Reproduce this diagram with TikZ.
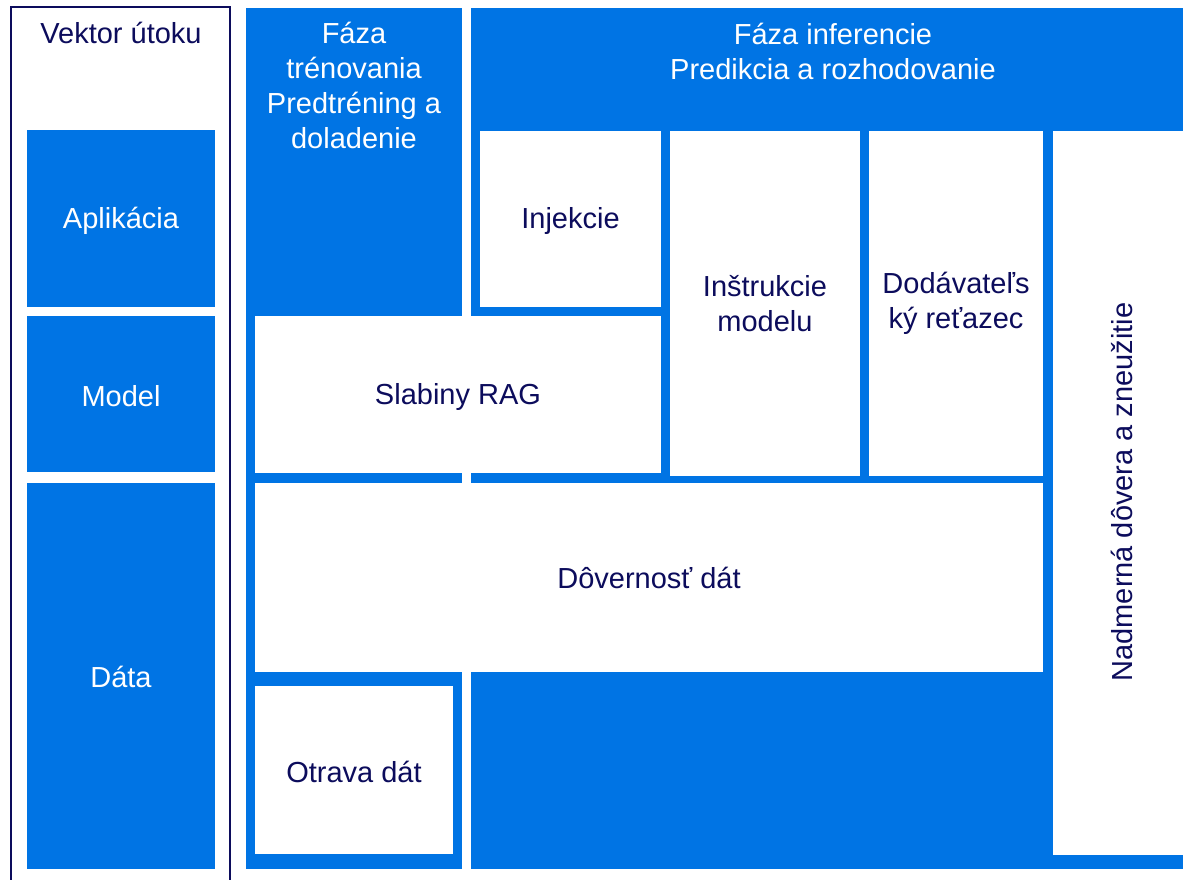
\documentclass[tikz,border=0pt]{standalone}
\usepackage{fontspec}
\setmainfont{Liberation Sans}
\usepackage{xcolor}
\usepackage{tikz}
\definecolor{tileblue}{RGB}{0,116,228}
\definecolor{inknavy}{RGB}{12,12,92}

\begin{document}
\begin{tikzpicture}[x=1pt, y=-1pt,
	tile/.style={fill=tileblue, text=white, inner sep=0pt, align=center, font=\fontsize{29}{35}\selectfont},
	cell/.style={fill=white, text=inknavy, inner sep=0pt, align=center, font=\fontsize{29}{35}\selectfont}]
	\useasboundingbox (0,0) rectangle (1183,880);
	
	% Vektor utoku
	\draw[inknavy, line width=2pt] (11,890) -- (11,7) -- (230,7) -- (230,890);
	\node[cell] (vektor) at (121,33) {Vektor útoku};
	\node[tile, minimum width=188pt, minimum height=177pt] (aplikacia) at (121,218.5) {};
	\node[tile, minimum width=188pt, minimum height=156pt] (model) at (121,394) {};
	\node[tile, minimum width=188pt, minimum height=386pt] (data) at (121,676) {};
	\node[tile, fill=none] (aplikaciatext) at (121,221) {Aplikácia};
	\node[tile, fill=none] (modeltext) at (121,396) {Model};
	\node[tile, fill=none] (datatext) at (121,677) {Dáta};
	
	% Fazy
	\node[tile, anchor=north west, minimum width=216pt, minimum height=861pt] (trening) at (246,8) {};
	\node[tile, anchor=north west, minimum width=730pt, minimum height=861pt] (inferencia) at (471,8) {};
	\node[tile, fill=none] (treningtext) at (354,85.5) {Fáza\\trénovania\\Predtréning a\\doladenie};
	\node[tile, fill=none] (inferenciatext) at (833,51) {Fáza inferencie\\Predikcia a rozhodovanie};
	
	% Zranitelnosti
	\node[cell, minimum width=181pt, minimum height=176pt] (injekcie) at (570.5,219) {};
	\node[cell, fill=none] (injekcietext) at (570.5,221) {Injekcie};
	\node[cell, minimum width=190pt, minimum height=345pt] (instrukcie) at (765,303.5) {Inštrukcie\\modelu};
	\node[cell, minimum width=174pt, minimum height=345pt] (dodavatel) at (956,303.5) {Dodávateľs\\ký reťazec};
	\node[cell, minimum width=406pt, minimum height=157pt] (rag) at (458,394.5) {};
	\node[cell, fill=none] (ragtext) at (458,397) {Slabiny RAG};
	\node[cell, minimum width=788pt, minimum height=189pt] (dovernost) at (649,577.5) {Dôvernosť dát};
	\node[cell, minimum width=198pt, minimum height=168pt] (otrava) at (354,770) {};
	\node[cell, fill=none] (otravatext) at (354,772) {Otrava dát};
	\node[cell, minimum width=140pt, minimum height=724pt] (nadmerna) at (1123,493) {};
	\node[cell, fill=none, rotate=90] (nadmernatext) at (1122,492) {Nadmerná dôvera a zneužitie};
\end{tikzpicture}
\end{document}
